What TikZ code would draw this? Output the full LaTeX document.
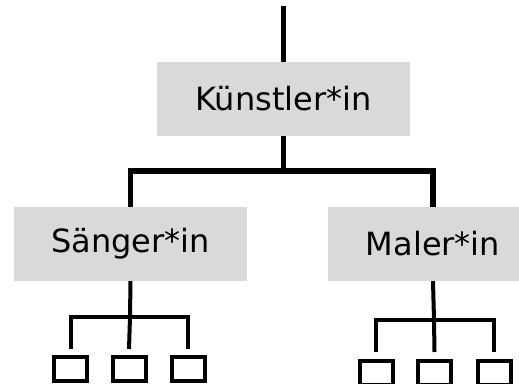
\documentclass[tikz,border=0pt]{standalone}
\usepackage{fontspec}
\setmainfont{DejaVu Sans}
\begin{document}
\begin{tikzpicture}[x=1pt,y=-1pt,
  catbox/.style={fill=boxgray,draw=none,inner sep=0pt,minimum height=74pt,font=\fontsize{32}{38}\selectfont},
  leafbox/.style={draw=black,line width=4pt,fill=white,minimum width=33pt,minimum height=24pt,inner sep=0pt},
  thickline/.style={line width=5.8pt,line join=miter,line cap=butt},
  thinline/.style={line width=4pt,line join=miter,line cap=butt}]
\definecolor{boxgray}{HTML}{D9D9D9}
\useasboundingbox (0,0) rectangle (519,383);
\clip (0,0) rectangle (519,383);
% category boxes
\node[catbox,minimum width=253pt] (k) at (283.5,99) {Künstler*in};
\node[catbox,minimum width=233pt] (s) at (130.5,244) {Sänger*in};
\node[catbox,minimum width=210pt] (m) at (433,244) {Maler*in};
% leaf boxes
\node[leafbox] (s1) at (70.5,369) {};
\node[leafbox] (s2) at (129,369) {};
\node[leafbox] (s3) at (188,369) {};
\node[leafbox] (m1) at (376,373) {};
\node[leafbox] (m2) at (434.5,373) {};
\node[leafbox] (m3) at (494,373) {};
% junction coordinates
\coordinate (top) at (283.5,6);
\coordinate (kj) at (283.5,171);
\coordinate (sj) at (130,317);
\coordinate (mj) at (434,320);
% connectors
\draw[thickline] (top) -- (k.north);
\draw[thickline] (k.south) -- (kj);
\draw[thickline] (s.north) |- (kj) -| (m.north);
\draw[thinline] (s.south) -- (sj);
\draw[thinline] ([yshift=6pt]s1.north) |- (sj) -| ([yshift=6pt]s3.north);
\draw[thinline] (sj) -- ([yshift=6pt]s2.north);
\draw[thinline] (m.south) -- (mj);
\draw[thinline] ([yshift=7pt]m1.north) |- (mj) -| ([yshift=7pt]m3.north);
\draw[thinline] (mj) -- ([yshift=7pt]m2.north);
\end{tikzpicture}
\end{document}
